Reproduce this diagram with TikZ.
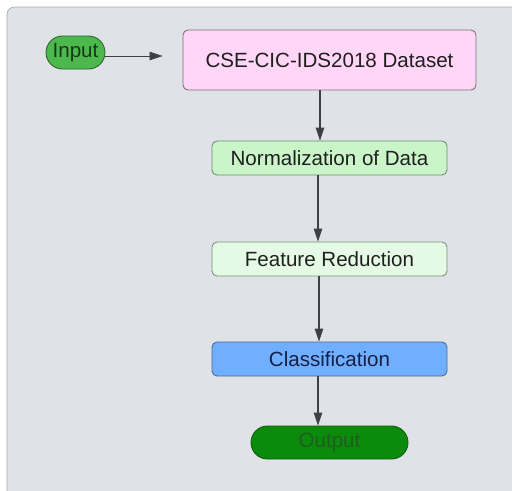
\documentclass[tikz,border=0pt]{standalone}
\usepackage{fontspec}
\setmainfont{Liberation Sans}
\usepackage{tikz}
\usetikzlibrary{shapes.geometric, arrows.meta}
\definecolor{panelbg}{RGB}{223,226,230}
\definecolor{panelline}{RGB}{170,172,176}
\definecolor{linkgray}{RGB}{62,64,70}
\definecolor{inputfill}{RGB}{77,184,77}
\definecolor{datafill}{RGB}{255,214,246}
\definecolor{normfill}{RGB}{201,245,201}
\definecolor{featfill}{RGB}{229,250,229}
\definecolor{classfill}{RGB}{112,174,255}
\definecolor{outfill}{RGB}{11,138,11}
\tikzstyle{stepbox} = [rectangle, rounded corners=0.1cm, minimum width=4.7cm, minimum height=0.68cm, text centered, draw=black!55, line width=0.5pt, font=\fontsize{11.7}{14}\selectfont, text=black!88]
\tikzstyle{terminal} = [rectangle, rounded corners=0.33cm, minimum height=0.66cm, text centered, line width=0.5pt, font=\fontsize{11.7}{14}\selectfont]
\tikzstyle{arrow} = [line width=0.6pt, draw=linkgray, -{Triangle[length=0.26cm, width=0.17cm]}]

\begin{document}
\begin{tikzpicture}
                    \useasboundingbox (0, 0) rectangle (10.24, -9.8);
                    \draw [fill=panelbg, draw=panelline, rounded corners=0.15cm] (0.14, -0.14) rectangle (10.6, -10.2);
                    \node (input) at (1.51, -1.05) [terminal, minimum width=1.18cm, fill=inputfill, draw=inputfill!55!black, text={rgb,255:red,25;green,55;blue,25}] {Input};
                    \node (data) at (6.59, -1.2) [stepbox, minimum width=5.86cm, minimum height=1.2cm, fill=datafill, draw={rgb,255:red,125;green,108;blue,122}] {CSE-CIC-IDS2018 Dataset};
                    \node (norm) at (6.59, -3.16) [stepbox, fill=normfill, draw={rgb,255:red,110;green,140;blue,110}] {Normalization of Data};
                    \node (feat) at (6.59, -5.18) [stepbox, fill=featfill, draw={rgb,255:red,120;green,145;blue,120}] {Feature Reduction};
                    \node (class) at (6.59, -7.18) [stepbox, fill=classfill, draw={rgb,255:red,75;green,105;blue,155}, text={rgb,255:red,20;green,32;blue,70}] {Classification};
                    \node (output) at (6.59, -8.85) [terminal, minimum width=3.14cm, rounded corners=0.33cm, fill=outfill, draw=outfill!70!black, text={rgb,255:red,30;green,95;blue,30}] {Output};
                    % links
                    \draw [arrow, line width=0.4pt, shorten >=0.4cm] ([yshift=-0.07cm]input.east) -- ([yshift=-0.07cm]input.east -| data.west);
                    \draw [arrow] ([xshift=-0.19cm]data.south) -- ([xshift=-0.19cm]norm.north);
                    \draw [arrow] ([xshift=-0.23cm]norm.south) -- ([xshift=-0.23cm]feat.north);
                    \draw [arrow] ([xshift=-0.21cm]feat.south) -- ([xshift=-0.21cm]class.north);
                    \draw [arrow] ([xshift=-0.23cm]class.south) -- ([xshift=-0.23cm]output.north);
                \end{tikzpicture}
\end{document}
